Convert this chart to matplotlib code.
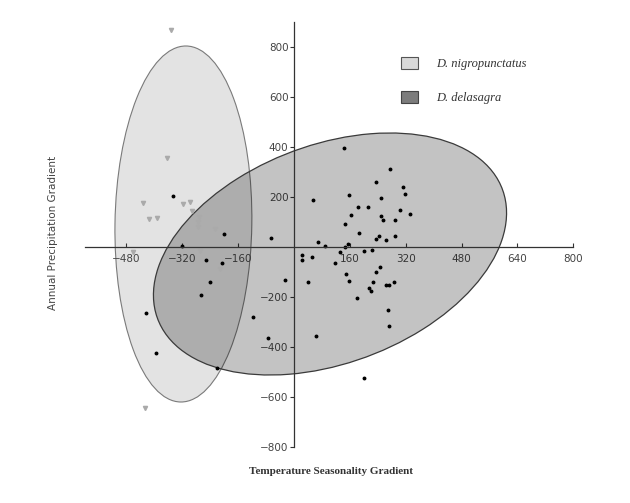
import matplotlib
matplotlib.use("Agg")
import matplotlib.pyplot as plt
from matplotlib.patches import Ellipse, Patch

# D. nigropunctatus (grey triangles)
nigro_x = [-353, -365, -434, -317, -297, -291, -415, -392, -271, -275, -275, -226, -460, -269, -212, -427]
nigro_y = [868, 357, 176, 173, 179, 143, 112, 115, 121, 100, 80, 71, -21, -15, -88, -645]

# D. delasagra (black dots)
dela_x = [-347, -200, -65, -321, -251, -207, -27, -241, -266, -424, -118, -74, -396, -222,
          143, 276, 236, 312, 55, 156, 250, 319, 183, 212, 304, 333, 162, 248, 256, 290,
          146, 187, 244, 290, 236, 262, 68, 88, 155, 145, 133, 199, 222, 22, 52, 24,
          118, 40, 149, 158, 235, 247, 226, 262, 271, 287, 215, 221, 181, 269, 272, 62, 200]
dela_y = [204, 51, 35, 4, -51, -64, -132, -140, -191, -265, -281, -363, -423, -483,
          396, 311, 259, 239, 187, 207, 195, 211, 159, 159, 148, 133, 128, 123, 108, 109,
          91, 56, 44, 44, 32, 27, 20, 4, 11, -1, -20, -17, -12, -33, -41, -51,
          -65, -141, -108, -137, -100, -79, -141, -152, -152, -139, -164, -175, -204, -252, -317, -356, -524]

# ellipses: centre, full width, full height, angle (data units)
nigro_ell = ((-317, 92), 392, 1424, -0.6)
dela_ell = ((103, -28), 1147, 803, 41.3)

labels = ["D. nigropunctatus", "D. delasagra"]
xticks = [-480, -320, -160, 160, 320, 480, 640, 800]
yticks = [-800, -600, -400, -200, 200, 400, 600, 800]

fig = plt.figure(figsize=(6.3, 5.03), dpi=100)
ax = fig.add_axes([0.1343, 0.1113, 0.7757, 0.845])

e1 = Ellipse(nigro_ell[0], nigro_ell[1], height=nigro_ell[2], angle=nigro_ell[3],
             facecolor="#e3e3e3", edgecolor="#7a7a7a", linewidth=0.8, zorder=1)
e2 = Ellipse(dela_ell[0], dela_ell[1], height=dela_ell[2], angle=dela_ell[3],
             facecolor=(0, 0, 0, 0.235), edgecolor="#3a3a3a", linewidth=0.9, zorder=2)
ax.add_patch(e1)
ax.add_patch(e2)

ax.plot(nigro_x, nigro_y, linestyle="none", marker="v", markersize=3.0,
        color="#aaaaaa", zorder=3)
ax.plot(dela_x, dela_y, linestyle="none", marker="o", markersize=1.8,
        color="black", zorder=4)

ax.set_xlim(-600, 800)
ax.set_ylim(-800, 900)

ax.spines["left"].set_position(("data", 0))
ax.spines["bottom"].set_position(("data", 0))
ax.spines["right"].set_visible(False)
ax.spines["top"].set_visible(False)
for sp in ("left", "bottom"):
    ax.spines[sp].set_color("#333333")
    ax.spines[sp].set_linewidth(0.9)
    ax.spines[sp].set_zorder(5)

ax.set_xticks(xticks)
ax.set_yticks(yticks)
ax.tick_params(axis="x", direction="in", length=3, width=0.8, colors="#333333",
               labelsize=7.5, pad=5)
ax.tick_params(axis="y", direction="out", length=3, width=0.8, colors="#333333",
               labelsize=7.5, pad=1)
for t in ax.get_xticklabels() + ax.get_yticklabels():
    t.set_color("#444444")
    t.set_zorder(6)

fig.text(331 / 630, 1 - 472 / 503, "Temperature Seasonality Gradient",
         ha="center", va="center", fontsize=8, family="Liberation Serif",
         fontweight="bold", color="#333333")
fig.text(53 / 630, 1 - 233 / 503, "Annual Precipitation Gradient",
         ha="center", va="center", rotation=90, fontsize=7.5, color="#444444")

handles = [Patch(facecolor="#d9d9d9", edgecolor="#555555", linewidth=0.8),
           Patch(facecolor="#7c7c7c", edgecolor="#444444", linewidth=0.8)]
leg = ax.legend(handles, labels, loc="upper left",
                bbox_to_anchor=(400.7 / 630, 1 - 57 / 503), bbox_transform=fig.transFigure,
                frameon=False, borderpad=0, borderaxespad=0,
                handlelength=1.4, handleheight=1.1, handletextpad=1.4, labelspacing=1.68,
                prop={"family": "Liberation Serif", "style": "italic", "size": 9})
for t in leg.get_texts():
    t.set_color("#333333")

fig.savefig("out.png", dpi=100)
